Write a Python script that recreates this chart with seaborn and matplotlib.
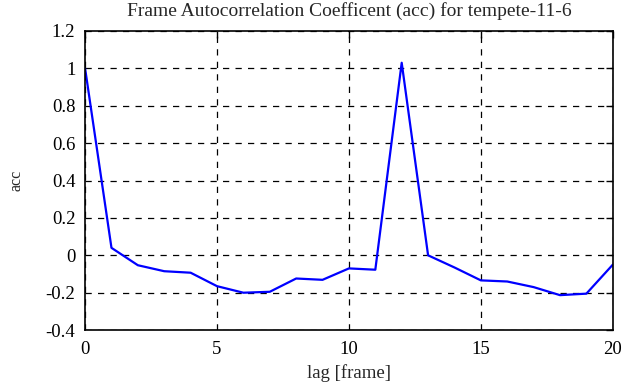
import pandas as pd
import seaborn as sns
import matplotlib.pyplot as plt

lag = list(range(21))
acc = [1.0, 0.04, -0.053, -0.085, -0.093, -0.165, -0.2, -0.195, -0.124, -0.131,
       -0.07, -0.077, 1.03, 0.0, -0.065, -0.134, -0.14, -0.17, -0.213, -0.205, -0.05]
xticks = [0, 5, 10, 15, 20]
yticks = [-0.4, -0.2, 0, 0.2, 0.4, 0.6, 0.8, 1, 1.2]
ylabels = ['-0.4', '-0.2', '0', '0.2', '0.4', '0.6', '0.8', '1', '1.2']

df = pd.DataFrame({'lag': lag, 'acc': acc})

sns.set_style('white')
plt.rcParams['font.family'] = ['Liberation Serif', 'DejaVu Serif']

fig = plt.figure(figsize=(6.35, 3.87), dpi=100)
ax = fig.add_axes([0.134, 0.147, 0.831, 0.773])

sns.lineplot(data=df, x='lag', y='acc', color='#0000ff', linewidth=1.6, ax=ax)

ax.set_xlim(0, 20)
ax.set_ylim(-0.4, 1.2)
ax.set_xticks(xticks)
ax.set_yticks(yticks)
ax.set_xticklabels([str(t) for t in xticks])
ax.set_yticklabels(ylabels)
ax.grid(True, color='black', linestyle=(0, (5, 5)), linewidth=0.9)
ax.tick_params(direction='in', length=5, width=1, top=True, right=True,
               labelsize=13.5, colors='black', pad=8)
ax.tick_params(axis='y', pad=7)
for s in ax.spines.values():
    s.set_color('black')
    s.set_linewidth(1.2)

ax.set_xlabel('lag [frame]', fontsize=13.5)
ax.set_ylabel('acc', fontsize=11.5)
ax.xaxis.set_label_coords(0.5, -0.114)
ax.yaxis.set_label_coords(-0.114, 0.5)
ax.set_title('Frame Autocorrelation Coefficent (acc) for tempete-11-6',
             fontsize=14, pad=11)

fig.savefig('out.png', dpi=100)
